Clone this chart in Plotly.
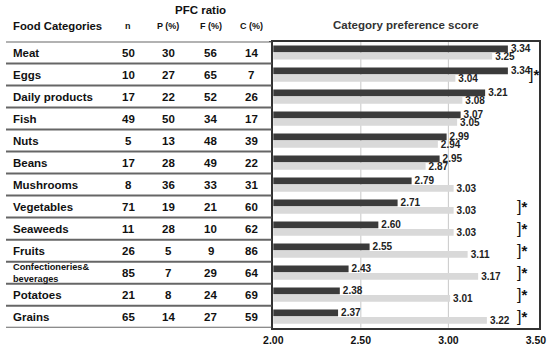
import plotly.graph_objects as go

categories = ["Meat", "Eggs", "Daily products", "Fish", "Nuts", "Beans", "Mushrooms",
              "Vegetables", "Seaweeds", "Fruits", "Confectioneries&<br>beverages",
              "Potatoes", "Grains"]
n_values = [50, 10, 17, 49, 5, 17, 8, 71, 11, 26, 85, 21, 65]
p_values = [30, 27, 22, 50, 13, 28, 36, 19, 28, 5, 7, 8, 14]
f_values = [56, 65, 52, 34, 48, 49, 33, 21, 10, 9, 29, 24, 27]
c_values = [14, 7, 26, 17, 39, 22, 31, 60, 62, 86, 64, 69, 59]
score_dark = [3.34, 3.34, 3.21, 3.07, 2.99, 2.95, 2.79, 2.71, 2.60, 2.55, 2.43, 2.38, 2.37]
score_light = [3.25, 3.04, 3.08, 3.05, 2.94, 2.87, 3.03, 3.03, 3.03, 3.11, 3.17, 3.01, 3.22]
significant = [False, True, False, False, False, False, False, True, True, True, True, True, True]
x_ticks = [2.0, 2.5, 3.0, 3.5]

W, H = 550, 351
FONT = "Liberation Sans, Arial, sans-serif"

def px(x):
    return x / W

def py(y):
    return 1 - y / H

fig = go.Figure()
for vals, color in ((score_dark, "#3b3b3b"), (score_light, "#d9d9d9")):
    fig.add_trace(go.Bar(
        y=categories, x=vals, orientation="h", marker=dict(color=color, line=dict(width=0)),
        texttemplate="%{x:.2f}", textposition="outside", constraintext="none", cliponaxis=False,
        outsidetextfont=dict(family=FONT, size=10, color="#222", weight="bold"),
        showlegend=False, hoverinfo="x+y"))

annotations = []
col_x = {"n": 128, "P": 168, "F": 211, "C": 251}
for i, cat in enumerate(categories):
    size = 9.2 if "<br>" in cat else 11.5
    annotations.append(dict(xref="paper", yref="y", x=px(11), y=cat, text=cat, showarrow=False,
                            xanchor="left", yanchor="middle", align="left",
                            font=dict(family=FONT, size=size, color="#111", weight="bold")))
    for key, vals in (("n", n_values), ("P", p_values), ("F", f_values), ("C", c_values)):
        annotations.append(dict(xref="paper", yref="y", x=px(col_x[key]), y=cat, text=str(vals[i]),
                                showarrow=False, xanchor="center", yanchor="middle",
                                font=dict(family=FONT, size=11.5, color="#111", weight="bold")))
    if significant[i]:
        bx = max(3.38, max(score_dark[i], score_light[i]) + 0.11)
        annotations.append(dict(xref="x", yref="y", x=bx, y=cat,
                                text='<span style="font-weight:normal;font-size:16px">]</span><b>*</b>',
                                showarrow=False, xanchor="left", yanchor="middle",
                                font=dict(family=FONT, size=15, color="#111")))

# headers
annotations.append(dict(xref="paper", yref="paper", x=px(200.5), y=py(10), text="PFC ratio",
                        showarrow=False, xanchor="center", yanchor="middle",
                        font=dict(family=FONT, size=11.5, color="#111", weight="bold")))
annotations.append(dict(xref="paper", yref="paper", x=px(11), y=py(26), text="Food Categories",
                        showarrow=False, xanchor="left", yanchor="middle",
                        font=dict(family=FONT, size=11.3, color="#111", weight="bold")))
for key, label in (("n", "n"), ("P", "P (%)"), ("F", "F (%)"), ("C", "C (%)")):
    annotations.append(dict(xref="paper", yref="paper", x=px(col_x[key]), y=py(26), text=label,
                            showarrow=False, xanchor="center", yanchor="middle",
                            font=dict(family=FONT, size=9, color="#111", weight="bold")))
annotations.append(dict(xref="paper", yref="paper", x=px(406), y=py(25), text="Category preference score",
                        showarrow=False, xanchor="center", yanchor="middle",
                        font=dict(family=FONT, size=11.5, color="#333", weight="bold")))

shapes = []
for k in range(len(categories) + 1):
    shapes.append(dict(type="line", xref="paper", yref="y", x0=px(6), x1=px(271.5),
                       y0=k - 0.5, y1=k - 0.5, line=dict(color="#666", width=2)))
for v in x_ticks[1:-1]:
    shapes.append(dict(type="line", xref="x", yref="paper", x0=v, x1=v, y0=py(327.7), y1=py(41.5),
                       line=dict(color="#c8c8c8", width=1), layer="below"))

fig.update_layout(
    width=W, height=H, margin=dict(l=0, r=0, t=0, b=0),
    paper_bgcolor="white", plot_bgcolor="white",
    barmode="group", bargap=0.32, bargroupgap=0.1,
    annotations=annotations, shapes=shapes,
    xaxis=dict(domain=[px(273.3), px(539.4)], range=[2.0, 3.52], tickvals=x_ticks,
               ticktext=[f"{v:.2f}" for v in x_ticks], showgrid=False,
               zeroline=False, showline=True, mirror=True, linecolor="#333",
               linewidth=1.5, ticks="", ticklabelstandoff=2, automargin=False,
               tickfont=dict(family=FONT, size=10.5, color="#111", weight="bold")),
    yaxis=dict(domain=[py(327.7), py(41.5)], range=[12.5, -0.5], type="category",
               showticklabels=False, ticks="outside", ticklen=3, tickcolor="#333",
               tickson="boundaries", showgrid=False, zeroline=False, showline=True, mirror=True,
               linecolor="#333", linewidth=1.5, automargin=False),
)

fig.write_html("out.html", config={"displayModeBar": False},
               post_script="document.body.style.margin='0px';document.body.style.overflow='hidden';")
